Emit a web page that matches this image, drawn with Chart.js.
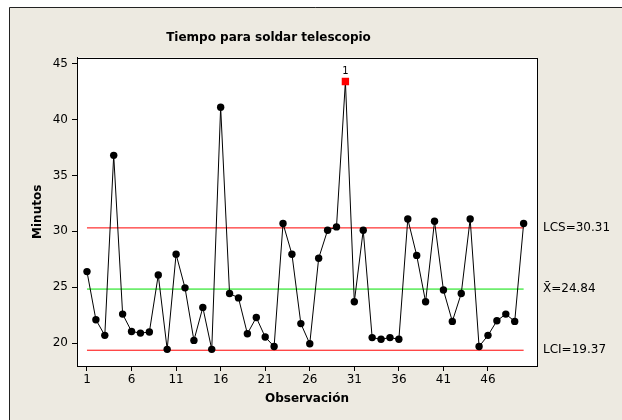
<!DOCTYPE html>
<html>
<head>
<meta charset="utf-8">
<script src="https://cdn.jsdelivr.net/npm/chart.js@4"></script>
<style>
  html, body { margin: 0; padding: 0; background: #ffffff; }
  #wrap { width: 622px; height: 420px; }
</style>
</head>
<body>
<div id="wrap"><canvas id="c" width="622" height="420"></canvas></div>
<script>
// Individual observations: minutes to solder each telescope
const observaciones = [
  1, 2, 3, 4, 5, 6, 7, 8, 9, 10,
  11, 12, 13, 14, 15, 16, 17, 18, 19, 20,
  21, 22, 23, 24, 25, 26, 27, 28, 29, 30,
  31, 32, 33, 34, 35, 36, 37, 38, 39, 40,
  41, 42, 43, 44, 45, 46, 47, 48, 49, 50
];
const minutos = [
  26.4, 22.1, 20.7, 36.8, 22.6, 21.05, 20.9, 21.0, 26.1, 19.45,
  27.95, 24.95, 20.25, 23.2, 19.45, 41.1, 24.45, 24.05, 20.85, 22.3,
  20.55, 19.7, 30.7, 27.95, 21.75, 19.95, 27.6, 30.1, 30.4, 43.4,
  23.7, 30.1, 20.5, 20.35, 20.5, 20.35, 31.1, 27.85, 23.7, 30.9,
  24.75, 21.95, 24.45, 31.1, 19.7, 20.7, 22.0, 22.6, 21.95, 30.7
];

// Control limits
const LCS = 30.31;
const mediaX = 24.84;
const LCI = 19.37;

// Axis tick values
const ticksX = [1, 6, 11, 16, 21, 26, 31, 36, 41, 46];
const ticksY = [20, 25, 30, 35, 40, 45];

// Observations flagged by test 1 (beyond the control limits, marked with "1")
const fueraDeControl = [30];

const puntos = observaciones.map((x, i) => ({ x: x, y: minutos[i] }));
const limite = v => [{ x: observaciones[0], y: v }, { x: observaciones[observaciones.length - 1], y: v }];

const esAlerta = ctx => fueraDeControl.includes(observaciones[ctx.dataIndex]);

const FONT = "'DejaVu Sans', sans-serif";

// Beige panel with its frame and the white plot area with a full box
const panel = {
  id: 'panel',
  beforeDraw(chart) {
    const c = chart.ctx;
    const a = chart.chartArea;
    c.save();
    c.fillStyle = '#ffffff';
    c.fillRect(0, 0, chart.width, chart.height);
    c.fillStyle = '#EDEAE1';
    c.fillRect(9, 7, chart.width, chart.height);
    c.strokeStyle = '#222222';
    c.lineWidth = 1;
    c.beginPath();
    c.moveTo(9.5, chart.height);
    c.lineTo(9.5, 7.5);
    c.lineTo(chart.width, 7.5);
    c.stroke();
    c.fillStyle = '#ffffff';
    c.fillRect(a.left, a.top, a.right - a.left, a.bottom - a.top);
    c.restore();
  },
  afterDatasetsDraw(chart) {
    const c = chart.ctx;
    const a = chart.chartArea;
    const ys = chart.scales.y;
    const xs = chart.scales.x;
    c.save();
    c.strokeStyle = '#000000';
    c.lineWidth = 1;
    c.strokeRect(Math.round(a.left) + 0.5, Math.round(a.top) + 0.5,
                 Math.round(a.right - a.left), Math.round(a.bottom - a.top));

    // Limit labels at the right of the plot
    c.fillStyle = '#000000';
    c.font = '12px ' + FONT;
    c.textAlign = 'left';
    c.textBaseline = 'middle';
    const lx = a.right + 6;
    c.fillText('LCS=' + LCS.toFixed(2), lx, ys.getPixelForValue(LCS));
    c.fillText('X\u0304=' + mediaX.toFixed(2), lx, ys.getPixelForValue(mediaX));
    c.fillText('LCI=' + LCI.toFixed(2), lx, ys.getPixelForValue(LCI));

    // Test-1 flags above the out-of-control points
    c.font = '10px ' + FONT;
    c.textAlign = 'center';
    c.textBaseline = 'bottom';
    fueraDeControl.forEach(o => {
      const i = observaciones.indexOf(o);
      c.fillText('1', xs.getPixelForValue(o), ys.getPixelForValue(minutos[i]) - 5);
    });
    c.restore();
  }
};

new Chart(document.getElementById('c'), {
  type: 'scatter',
  data: {
    datasets: [
      {
        label: 'Minutos',
        data: puntos,
        showLine: true,
        borderColor: '#000000',
        borderWidth: 1,
        pointRadius: ctx => esAlerta(ctx) ? 5.2 : 3.7,
        pointStyle: ctx => esAlerta(ctx) ? 'rect' : 'circle',
        pointBackgroundColor: ctx => esAlerta(ctx) ? '#FF0000' : '#000000',
        pointBorderWidth: 0,
        order: 0
      },
      { label: 'LCS', data: limite(LCS), showLine: true, borderColor: '#FF0000', borderWidth: 1, pointRadius: 0, order: 1 },
      { label: 'Media', data: limite(mediaX), showLine: true, borderColor: '#00E000', borderWidth: 1, pointRadius: 0, order: 1 },
      { label: 'LCI', data: limite(LCI), showLine: true, borderColor: '#FF0000', borderWidth: 1, pointRadius: 0, order: 1 }
    ]
  },
  options: {
    responsive: false,
    animation: false,
    events: [],
    layout: { padding: { top: 0, right: 85, bottom: 0, left: 0 } },
    plugins: {
      legend: { display: false },
      tooltip: { enabled: false },
      title: {
        display: true,
        text: 'Tiempo para soldar telescopio',
        color: '#000000',
        font: { family: FONT, size: 12, weight: 'bold' },
        padding: { top: 31, bottom: 12.2 }
      }
    },
    scales: {
      x: {
        type: 'linear',
        min: -0.12,
        max: 51.5,
        afterBuildTicks: s => { s.ticks = ticksX.map(v => ({ value: v })); },
        afterFit: s => { s.height = 54; },
        border: { display: true, color: '#000000' },
        grid: { display: true, drawOnChartArea: false, drawTicks: true, tickLength: 5, color: '#000000' },
        ticks: { color: '#000000', font: { family: FONT, size: 12 }, padding: 2, maxRotation: 0 },
        title: {
          display: true,
          text: 'Observación',
          color: '#000000',
          font: { family: FONT, size: 12, weight: 'bold' },
          padding: { top: 0, bottom: 14 }
        }
      },
      y: {
        type: 'linear',
        min: 17.96,
        max: 45.54,
        afterBuildTicks: s => { s.ticks = ticksY.map(v => ({ value: v })); },
        afterFit: s => { s.width = 77; },
        border: { display: true, color: '#000000' },
        grid: { display: true, drawOnChartArea: false, drawTicks: true, tickLength: 5, color: '#000000' },
        ticks: { color: '#000000', font: { family: FONT, size: 12 }, padding: 4 },
        title: {
          display: true,
          text: 'Minutos',
          color: '#000000',
          font: { family: FONT, size: 12, weight: 'bold' },
          padding: { top: 31, bottom: 0 }
        }
      }
    }
  },
  plugins: [panel]
});
</script>
</body>
</html>
